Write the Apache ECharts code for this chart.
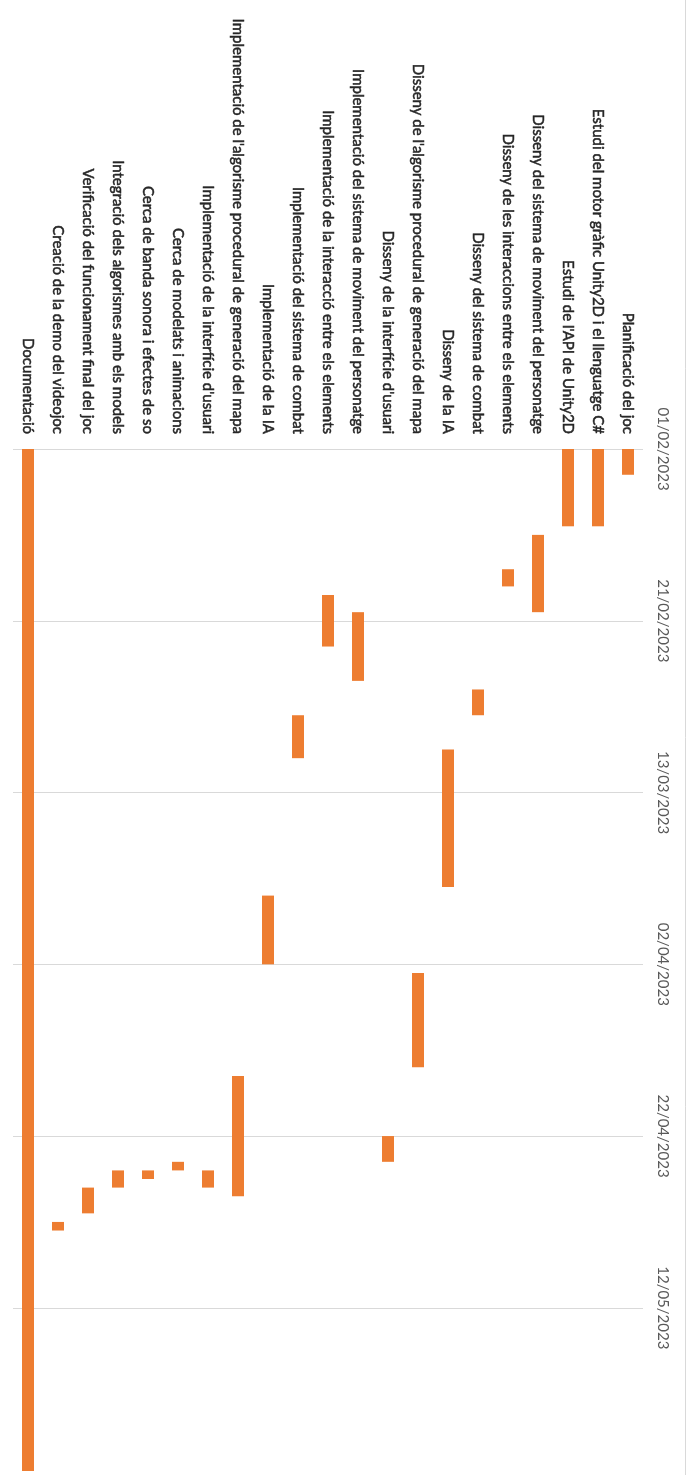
<!DOCTYPE html>
<html>
<head>
<meta charset="utf-8">
<script src="https://cdn.jsdelivr.net/npm/echarts@6/dist/echarts.min.js"></script>
<style>
html,body{margin:0;padding:0;background:#fff;}
#chart{width:696px;height:1475px;}
</style>
</head>
<body>
<div id="chart"></div>
<script>
var tasks = [
  "Planificació del joc",
  "Estudi del motor gràfic Unity2D i el llenguatge C#",
  "Estudi de l'API de Unity2D",
  "Disseny del sistema de moviment del personatge",
  "Disseny de les interaccions entre els elements",
  "Disseny del sistema de combat",
  "Disseny de la IA",
  "Disseny de l'algorisme procedural de generació del mapa",
  "Disseny de la interfície d'usuari",
  "Implementació del sistema de moviment del personatge",
  "Implementació de la interacció entre els elements",
  "Implementació del sistema de combat",
  "Implementació de la IA",
  "Implementació de l'algorisme procedural de generació del mapa",
  "Implementació de la interfície d'usuari",
  "Cerca de modelats i animacions",
  "Cerca de banda sonora i efectes de so",
  "Integració dels algorismes amb els models",
  "Verificació del funcionament final del joc",
  "Creació de la demo del videojoc",
  "Documentació"
];
var startDates = [
  "2023-02-01","2023-02-01","2023-02-01","2023-02-11","2023-02-15",
  "2023-03-01","2023-03-08","2023-04-03","2023-04-22","2023-02-20",
  "2023-02-18","2023-03-04","2023-03-25","2023-04-15","2023-04-26",
  "2023-04-25","2023-04-26","2023-04-26","2023-04-28","2023-05-02",
  "2023-02-01"
];
var endDates = [
  "2023-02-04","2023-02-10","2023-02-10","2023-02-20","2023-02-17",
  "2023-03-04","2023-03-24","2023-04-14","2023-04-25","2023-02-28",
  "2023-02-24","2023-03-09","2023-04-02","2023-04-29","2023-04-28",
  "2023-04-26","2023-04-27","2023-04-28","2023-05-01","2023-05-03",
  "2023-05-31"
];
var axisStart = "2023-02-01";
var axisEnd = "2023-05-31";
var tickStepDays = 20;

function toUTC(s){ var p = s.split("-"); return Date.UTC(+p[0], +p[1]-1, +p[2]); }
var DAY = 86400000;
var base = toUTC(axisStart);
function dayOffset(s){ return Math.round((toUTC(s) - base) / DAY); }
function fmtDate(off){
  var d = new Date(base + off * DAY);
  var dd = ("0" + d.getUTCDate()).slice(-2);
  var mm = ("0" + (d.getUTCMonth() + 1)).slice(-2);
  return dd + "/" + mm + "/" + d.getUTCFullYear();
}

var seriesData = tasks.map(function(t, i){
  return [i, dayOffset(startDates[i]), dayOffset(endDates[i])];
});

var chart = echarts.init(document.getElementById("chart"), null, {renderer: "canvas"});
var FONT = "Lato";
chart.setOption({
  animation: false,
  backgroundColor: "#ffffff",
  grid: {left: 13, width: 630, top: 449, height: 1022, containLabel: false},
  xAxis: {
    type: "category",
    data: tasks,
    position: "top",
    inverse: true,
    axisLine: {show: false},
    axisTick: {show: false},
    splitLine: {show: false},
    axisLabel: {
      rotate: -90,
      interval: 0,
      margin: 15,
      color: "#262626",
      textBorderColor: "#262626",
      textBorderWidth: 0.5,
      fontFamily: FONT,
      fontSize: 15
    }
  },
  yAxis: {
    type: "value",
    inverse: true,
    position: "right",
    min: 0,
    max: dayOffset(axisEnd),
    interval: tickStepDays,
    axisLine: {show: false},
    axisTick: {show: false},
    splitLine: {show: true, showMaxLine: false, lineStyle: {color: "#d9d9d9", width: 1}},
    axisLabel: {
      rotate: -90,
      margin: 12,
      showMaxLabel: false,
      color: "#595959",
      fontFamily: FONT,
      fontSize: 15,
      formatter: function(v){ return (v % tickStepDays === 0) ? fmtDate(v) : ""; }
    }
  },
  graphic: [{
    type: "line",
    shape: {x1: 685.5, y1: 0, x2: 685.5, y2: 1475},
    style: {stroke: "#d9d9d9", lineWidth: 1},
    silent: true
  }],
  series: [{
    type: "custom",
    data: seriesData,
    encode: {x: 0, y: [1, 2]},
    renderItem: function(params, api){
      var idx = api.value(0);
      var a = api.coord([idx, api.value(1)]);
      var b = api.coord([idx, api.value(2)]);
      var w = 12;
      return {
        type: "rect",
        shape: {x: a[0] - w / 2, y: a[1], width: w, height: b[1] - a[1]},
        style: {fill: "#ed7d31"}
      };
    }
  }]
});
</script>
</body>
</html>
